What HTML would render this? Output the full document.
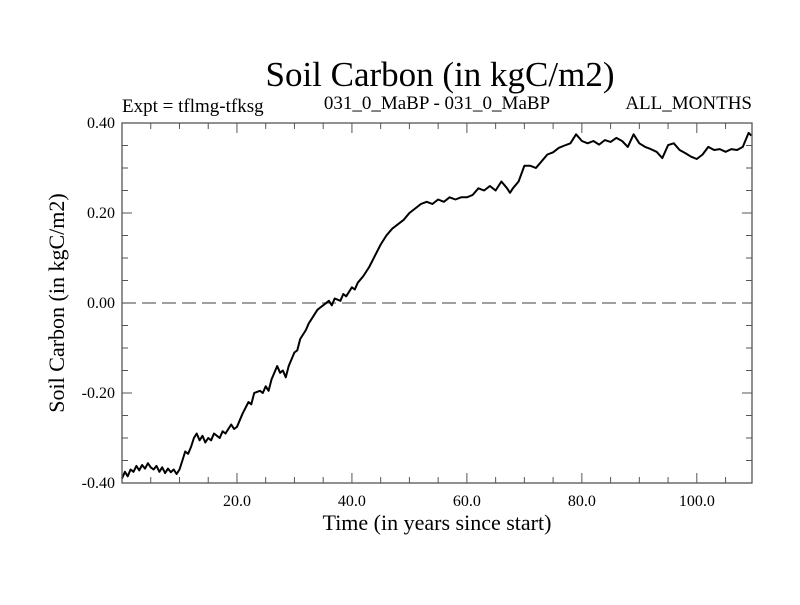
<!DOCTYPE html>
<html><head><meta charset="utf-8"><style>
body{margin:0;background:#fff;}
svg text{font-family:"Liberation Serif",serif;fill:#000;}
</style></head><body>
<svg id="chart" width="800" height="600" xmlns="http://www.w3.org/2000/svg">
<text x="440" y="86" font-size="35" text-anchor="middle">Soil Carbon (in kgC/m2)</text>
<text x="122" y="112" font-size="19">Expt = tflmg-tfksg</text>
<text x="437" y="109" font-size="19" text-anchor="middle">031_0_MaBP - 031_0_MaBP</text>
<text x="752" y="109" font-size="19" text-anchor="end">ALL_MONTHS</text>
<text x="437" y="530" font-size="22" text-anchor="middle">Time (in years since start)</text>
<text x="0" y="0" font-size="22" text-anchor="middle" transform="translate(64,303) rotate(-90)">Soil Carbon (in kgC/m2)</text>
<g id="axes"></g>
<rect x="122" y="123" width="630" height="360" fill="none" stroke="#555" stroke-width="1.3"/>
</svg>
<script>
const years=[0,0.5,1,1.5,2,2.5,3,3.5,4,4.5,5,5.5,6,6.5,7,7.5,8,8.5,9,9.5,10,10.5,11,11.5,12,12.5,13,13.5,14,14.5,15,15.5,16,17,17.5,18,19,19.5,20,21,22,22.5,23,24,24.5,25,25.5,26,27,27.5,28,28.5,29,30,30.5,31,32,32.5,33,34,34.5,35,36,36.5,37,38,38.5,39,40,40.5,41,42,42.5,43,44,45,46,47,48,49,50,51,52,53,54,55,56,57,58,59,60,61,62,63,64,65,66,67,67.5,68,69,70,71,72,73,74,75,76,77,78,79,80,81,82,83,84,85,86,87,88,89,90,91,92,93,94,95,96,97,98,99,100,101,102,103,104,105,106,107,108,109,109.5];
const values=[-0.39,-0.375,-0.385,-0.37,-0.375,-0.362,-0.372,-0.36,-0.368,-0.356,-0.365,-0.37,-0.362,-0.375,-0.365,-0.378,-0.368,-0.376,-0.37,-0.38,-0.37,-0.35,-0.33,-0.335,-0.32,-0.3,-0.29,-0.305,-0.295,-0.31,-0.3,-0.305,-0.29,-0.3,-0.285,-0.29,-0.27,-0.28,-0.275,-0.245,-0.22,-0.225,-0.2,-0.195,-0.2,-0.185,-0.195,-0.17,-0.14,-0.155,-0.15,-0.165,-0.14,-0.11,-0.105,-0.08,-0.06,-0.045,-0.035,-0.015,-0.01,-0.005,0.005,-0.005,0.01,0.005,0.02,0.015,0.035,0.03,0.045,0.06,0.07,0.08,0.105,0.13,0.15,0.165,0.175,0.185,0.2,0.21,0.22,0.225,0.22,0.23,0.225,0.235,0.23,0.235,0.235,0.24,0.255,0.25,0.26,0.25,0.27,0.255,0.245,0.255,0.27,0.305,0.305,0.3,0.315,0.33,0.335,0.345,0.35,0.355,0.375,0.36,0.355,0.36,0.352,0.362,0.358,0.367,0.36,0.347,0.375,0.355,0.347,0.342,0.336,0.322,0.351,0.355,0.34,0.333,0.325,0.32,0.33,0.347,0.34,0.342,0.336,0.342,0.34,0.347,0.378,0.372,0.373];
const xTicks=[20,40,60,80,100];
const yTicks=[-0.4,-0.2,0,0.2,0.4];
const X0=122,X1=752,Y0=123,Y1=483,XMAX=109.6,YMIN=-0.4,YMAX=0.4;
function sx(v){return X0+(v/XMAX)*(X1-X0);}
function sy(v){return Y1-(v-YMIN)/(YMAX-YMIN)*(Y1-Y0);}
const NS="http://www.w3.org/2000/svg";
const g=document.getElementById('axes');
function mk(t,a){const e=document.createElementNS(NS,t);for(const k in a)e.setAttribute(k,a[k]);g.appendChild(e);return e;}
for(let v=5;v<XMAX;v+=5){const major=v%20===0;const L=major?10:6;
 const t1=mk('line',{x1:sx(v),x2:sx(v),y1:Y1,y2:Y1-L,stroke:'#555','stroke-width':1});
 
 
 const t2=mk('line',{x1:sx(v),x2:sx(v),y1:Y0,y2:Y0+L,stroke:'#555','stroke-width':1});
 
 }
for(let i=-8;i<=8;i++){const v=i*0.05;const major=i%4===0;const L=major?10:6;
 const t1=mk('line',{x1:X0,x2:X0+L,y1:sy(v),y2:sy(v),stroke:'#555','stroke-width':1});
 
 
 const t2=mk('line',{x1:X1,x2:X1-L,y1:sy(v),y2:sy(v),stroke:'#555','stroke-width':1});
 
 }
xTicks.forEach(v=>{const t=mk('text',{x:sx(v),y:506,'font-size':16,'text-anchor':'middle'});t.textContent=v.toFixed(1);
 
 });
yTicks.forEach(v=>{const t=mk('text',{x:115,y:sy(v)+5,'font-size':16,'text-anchor':'end'});t.textContent=v.toFixed(2);
 
 });
const z=mk('line',{x1:X0,x2:X1,y1:sy(0),y2:sy(0),stroke:'#666','stroke-width':1.3,'stroke-dasharray':'14,6'});


const p=mk('polyline',{points:years.map((x,i)=>sx(x).toFixed(1)+','+sy(values[i]).toFixed(1)).join(' '),fill:'none',stroke:'#000','stroke-width':2,'stroke-linejoin':'round'});


</script>
</body></html>
